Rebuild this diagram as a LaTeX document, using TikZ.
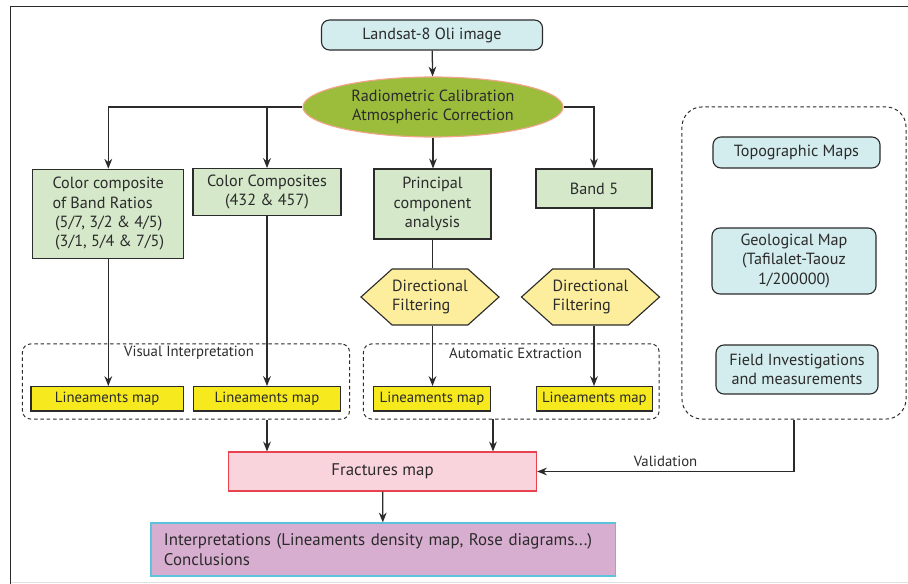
\documentclass[tikz,border=0pt]{standalone}
\usepackage{fontspec}
\setmainfont{PT Sans}
\usepackage{xcolor}
\usepackage{tikz}
\usetikzlibrary{arrows.meta,calc,positioning,shapes.geometric,shapes.symbols}

\definecolor{lnk}{HTML}{2B2B2B}
\definecolor{cyanbox}{HTML}{D3ECEE}
\definecolor{greenbox}{HTML}{D5E8CA}
\definecolor{olive}{HTML}{9CBC3C}
\definecolor{salmon}{HTML}{F2A58C}
\definecolor{hexfill}{HTML}{FCEE9C}
\definecolor{lmfill}{HTML}{F6E91E}
\definecolor{fracfill}{HTML}{FAD4DD}
\definecolor{fracline}{HTML}{E8414F}
\definecolor{interfill}{HTML}{D8AED0}
\definecolor{interline}{HTML}{5CC3DC}

\begin{document}
\begin{tikzpicture}[x=0.025cm,y=-0.025cm,
    txt/.style={font=\fontsize{11.5}{13.7}\selectfont,text=lnk},
    big/.style={font=\fontsize{12}{14.5}\selectfont,text=lnk},
    small/.style={font=\fontsize{10.5}{12}\selectfont,text=lnk},
    cyanbx/.style={txt,draw=lnk,fill=cyanbox,rounded corners=0.2cm,line width=0.8pt,align=center,inner sep=0pt},
    greenbx/.style={txt,draw=lnk,fill=greenbox,line width=0.8pt,align=center,inner sep=0pt},
    hexbx/.style={txt,draw=lnk,fill=hexfill,line width=0.8pt,signal,signal to=west and east,signal pointer angle=84,align=left,inner sep=0pt,minimum width=3.425cm,minimum height=1.4cm},
    lmbx/.style={small,draw=lnk,fill=lmfill,line width=0.8pt,inner sep=0pt,minimum height=0.61cm},
    dashbx/.style={draw=lnk,dash pattern=on 2.5pt off 2pt,line width=0.7pt,rounded corners=0.2cm,inner sep=0pt},
    arr/.style={draw=lnk,line width=0.9pt,-{Stealth[length=7pt,width=5.5pt]}},
    ln/.style={draw=lnk,line width=0.9pt}]
\useasboundingbox (0,0) rectangle (908,584);
% frame
\draw[lnk,line width=0.9pt] (908,6.7) -- (10.7,6.7) -- (10.7,584);
\draw[black!12,line width=0.6pt] (10.7,582.5) -- (908,582.5);

\node[cyanbx,minimum width=5.525cm,minimum height=0.75cm] (land) at (432,35) {Landsat-8 Oli image};
\node[ellipse,txt,draw=salmon,fill=olive,line width=0.8pt,align=center,inner sep=0pt,minimum width=6.5cm,minimum height=1.5cm] (calib) at (433,107) {Radiometric Calibration\\Atmospheric Correction};

% processing columns
\node[greenbx,align=left,minimum width=3.78cm,minimum height=2.225cm] (ratio) at (108.3,213.8) {Color composite\\of Band Ratios\\ \,(5/7, 3/2 \& 4/5)\\ \,(3/1, 5/4 \& 7/5)};
\node[greenbx,minimum width=3.7cm,minimum height=1.17cm] (comp) at (267,192) {Color Composites\\(432 \& 457)};
\node[greenbx,minimum width=2.925cm,minimum height=1.75cm] (pca) at (432.5,204) {Principal\\component\\analysis};
\node[greenbx,minimum width=2.9cm,minimum height=0.975cm] (band) at (594,188.5) {Band 5};

\node[hexbx] (filtA) at (430,297) {Directional\\Filtering};
\node[hexbx] (filtB) at (590.5,297) {Directional\\Filtering};

% dashed groups
\node[dashbx,minimum width=8.175cm,minimum height=1.875cm] (visual) at (186,381.5) {};
\node[small] (visuallbl) at (189,353) {Visual Interpretation};
\node[dashbx,minimum width=7.39cm,minimum height=1.875cm] (auto) at (511.3,381.5) {};
\node[small] (autolbl) at (515.5,353) {Automatic Extraction};

\node[lmbx,minimum width=3.81cm] (lmA) at (107.2,398.8) {Lineaments map};
\node[lmbx,minimum width=3.685cm] (lmB) at (267,398.8) {Lineaments map};
\node[lmbx,minimum width=2.925cm] (lmC) at (432,398.8) {Lineaments map};
\node[lmbx,minimum width=2.91cm] (lmD) at (594.3,398.8) {Lineaments map};

% validation data
\node[dashbx,rounded corners=0.5cm,minimum width=5.6cm,minimum height=7.8cm] (valid) at (794,263) {};
\node[cyanbx,minimum width=4.175cm,minimum height=0.775cm] (topo) at (796.5,152.5) {Topographic Maps};
\node[cyanbx,minimum width=4.1cm,minimum height=1.65cm] (geol) at (794,261) {Geological Map\\(Tafilalet-Taouz\\1/200000)};
\node[cyanbx,minimum width=4.05cm,minimum height=1.225cm] (field) at (797,369.5) {Field Investigations\\and measurements};

\node[big,draw=fracline,fill=fracfill,line width=0.8pt,minimum width=7.7cm,minimum height=0.975cm,inner sep=0pt] (frac) at (382.5,471.5) {Fractures map};
\node[big,draw=interline,fill=interfill,line width=0.8pt,text width=10.95cm,align=left,minimum height=1.325cm,inner xsep=0.325cm,inner ysep=0pt] (interp) at (383,549.5) {Interpretations (Lineaments density map, Rose diagrams...)\\Conclusions};

% connectors
\draw[arr] (land) -- (calib);
\draw[arr] (calib.west) -| (ratio.north);
\draw[arr] (calib.west -| comp.north) -- (comp.north);
\draw[arr] (calib) -- (calib |- pca.north);
\draw[arr] (calib.east) -| (band.north);
\draw[arr] (ratio.south) -- (ratio.south |- lmA.north);
\draw[arr] (comp) -- (lmB);
\draw[ln] (pca) -- (pca |- filtA.north);
\draw[arr] (pca |- filtA.south) -- (pca |- lmC.north);
\draw[ln] (band) -- (band |- filtB.north);
\draw[arr] (band |- filtB.south) -- (band |- lmD.north);
\draw[arr] (lmB |- visual.south) -- (lmB |- frac.north);
\coordinate (autoout) at (493,419);
\draw[arr] (autoout) -- (autoout |- frac.north);
\draw[arr] (valid.south) |- (frac.east) node[small,pos=0.75,above] {Validation};
\draw[arr] (frac) -- (interp);
\end{tikzpicture}
\end{document}
